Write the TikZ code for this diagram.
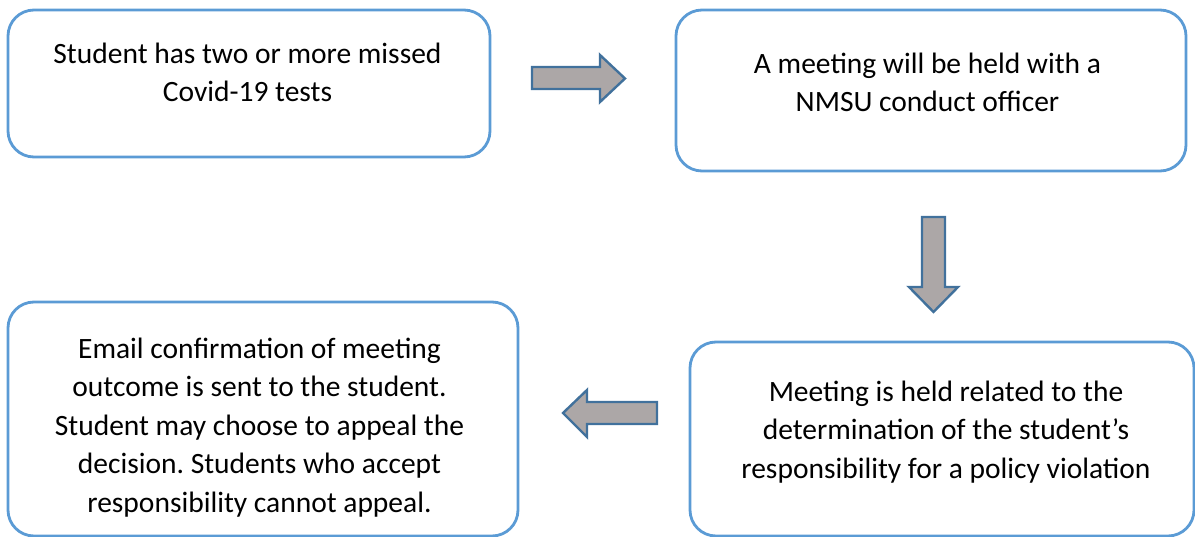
\documentclass[tikz,border=0pt]{standalone}
\usepackage{fontspec}
\setmainfont{Carlito}
\frenchspacing
\definecolor{boxblue}{RGB}{91,155,213}
\definecolor{arrowline}{RGB}{65,113,156}
\definecolor{arrowfill}{RGB}{172,167,167}
\tikzset{
  stepbox/.style={draw=boxblue, line width=2.8pt, rounded corners=26pt, fill=white},
  steptext/.style={align=center, font=\fontsize{29.5}{38.5}\selectfont, inner sep=0pt, anchor=base},
  blockarrow/.style={draw=arrowline, line width=2.4pt, fill=arrowfill, line join=miter}
}

\begin{document}
\begin{tikzpicture}[x=1pt, y=-1pt]
	\useasboundingbox (0,0) rectangle (1195,537);
	% boxes
	\draw[stepbox] (8,10) rectangle (490,157);
	\draw[stepbox] (676,10) rectangle (1186,171);
	\draw[stepbox] (690,342) rectangle (1194,536);
	\draw[stepbox] (8,302) rectangle (518,536);
	% texts (anchored at the baseline of the last line)
	\node(MISSED) at (247.5,102)[steptext]{Student has two or more missed\\Covid-19 tests};
	\node(MEETING) at (927.5,112)[steptext]{A meeting will be held with a\\NMSU conduct officer};
	\node(HELD) at (946,478)[steptext]{Meeting is held related to the\\determination of the student’s\\responsibility for a policy violation};
	\node(EMAIL) at (259.5,512)[steptext]{Email confirmation of meeting\\outcome is sent to the student.\\Student may choose to appeal the\\decision. Students who accept\\responsibility cannot appeal.};
	% block arrows
	\draw[blockarrow] (532,67) -- (600,67) -- (600,55) -- (625,78.5) -- (600,102) -- (600,89) -- (532,89) -- cycle;
	\draw[blockarrow] (922,217) -- (945,217) -- (945,287) -- (958,287) -- (933.5,312) -- (909,287) -- (922,287) -- cycle;
	\draw[blockarrow] (657,402) -- (587,402) -- (587,390) -- (563,413) -- (587,437) -- (587,424) -- (657,424) -- cycle;
\end{tikzpicture}
\end{document}
